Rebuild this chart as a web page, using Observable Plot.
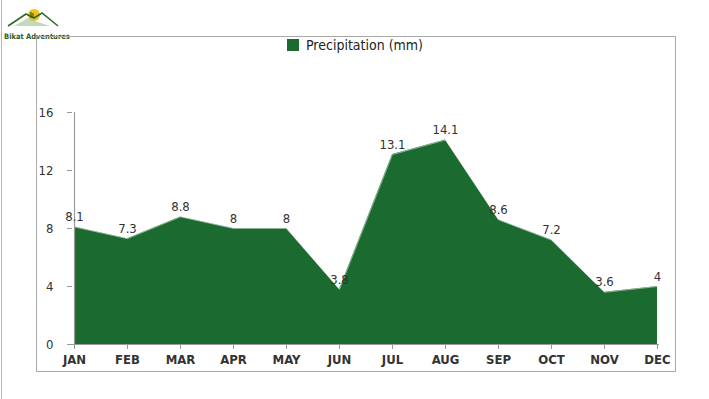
<!DOCTYPE html>
<html>
<head>
<meta charset="utf-8">
<script src="https://cdn.jsdelivr.net/npm/d3@7"></script>
<script src="https://cdn.jsdelivr.net/npm/@observablehq/plot@0.6"></script>
<style>
  html, body { margin: 0; padding: 0; background: #fff; }
  #page { position: relative; width: 709px; height: 399px; overflow: hidden; background: #fff;
          font-family: "DejaVu Sans Condensed", "DejaVu Sans", sans-serif; }
  #edge { position: absolute; left: 1px; top: 0; width: 1px; height: 399px; background: #b8b8b8; }
  #frame { position: absolute; left: 36px; top: 36px; width: 638px; height: 334px; border: 1.5px solid #aaa; }
  #legend { position: absolute; left: 287px; top: 37px; display: flex; align-items: center; font-size: 14px; color: #222; }
  #legend .sw { width: 12px; height: 12px; background: #1b6b30; margin-right: 7px; }
  #logo { position: absolute; left: 4px; top: 4px; width: 60px; }
  #logo .name { font-size: 7.5px; font-weight: bold; color: #2f5b2a; font-family: "DejaVu Sans Condensed", "DejaVu Sans", sans-serif; white-space: nowrap; }
  #chart { position: absolute; left: 0; top: 0; }
</style>
</head>
<body>
<div id="page">
  <div id="edge"></div>
  <div id="logo">
    <svg width="56" height="24" viewBox="0 0 56 24">
      <circle cx="30" cy="11" r="6" fill="#f2c21b"/>
      <path d="M4 22 L22 10 L30 14 L38 9 L54 22" fill="none" stroke="#2f6b2a" stroke-width="1.6"/>
      <path d="M10 22 L24 14 L34 18 L46 22 Z" fill="#9cc08c" opacity="0.6"/>
      <path d="M27 8 L27 14 M29 9 L29 14" stroke="#3a5a2a" stroke-width="1.2"/>
    </svg>
    <div class="name">Bikat Adventures</div>
  </div>
  <div id="frame"></div>
  <div id="legend"><div class="sw"></div><span>Precipitation (mm)</span></div>
  <div id="chart"></div>
</div>
<script>
const months = ["JAN","FEB","MAR","APR","MAY","JUN","JUL","AUG","SEP","OCT","NOV","DEC"];
const precipitation = [8.1, 7.3, 8.8, 8, 8, 3.8, 13.1, 14.1, 8.6, 7.2, 3.6, 4];
const yTicks = [0, 4, 8, 12, 16];

const data = months.map((m, i) => ({month: m, value: precipitation[i]}));
const fontFamily = '"DejaVu Sans Condensed", "DejaVu Sans", sans-serif';

const chart = Plot.plot({
  width: 709,
  height: 399,
  marginLeft: 72,
  marginRight: 50,
  marginTop: 112,
  marginBottom: 55,
  style: {background: "transparent", fontFamily, overflow: "visible"},
  x: {type: "point", domain: months, padding: 0, label: null},
  y: {domain: [0, 16], label: null},
  marks: [
    Plot.areaY(data, {x: "month", y: "value", fill: "#1b6b30", curve: "linear"}),
    Plot.lineY(data, {x: "month", y: "value", stroke: "#dfe9df", strokeWidth: 0.8, strokeOpacity: 0.7}),
    Plot.ruleY([0], {stroke: "#9a9a9a", strokeWidth: 1.2}),
    Plot.ruleX([months[0]], {y1: 0, y2: 16, stroke: "#9a9a9a", strokeWidth: 1.2}),
    Plot.axisY({ticks: yTicks, tickSize: 5, tickPadding: 14, stroke: "#9a9a9a", fill: "#333", fontSize: 13, label: null}),
    Plot.axisX({tickSize: 5, tickPadding: 5, stroke: "#9a9a9a", fill: "#333", fontSize: 13, fontWeight: "bold", label: null}),
    Plot.text(data, {x: "month", y: "value", text: d => String(d.value), dy: -10, fill: "#333", fontSize: 13})
  ]
});
document.getElementById("chart").appendChild(chart);
</script>
</body>
</html>
